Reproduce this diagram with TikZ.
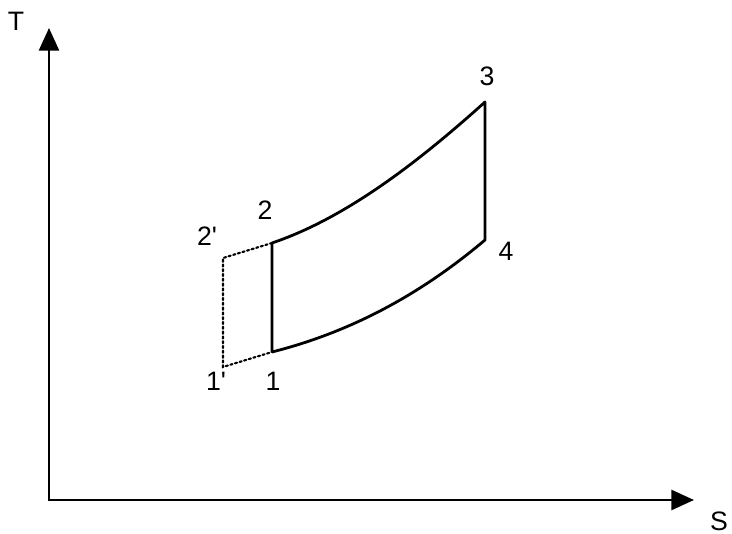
\documentclass[tikz,border=0pt]{standalone}
\usepackage{fontspec}
\setmainfont{Liberation Sans}
\newfontfamily\labfont{Liberation Sans}
\usetikzlibrary{arrows.meta}
\begin{document}
\begin{tikzpicture}[x=0.75pt,y=-0.75pt,
  axisline/.style={line width=2pt,{Triangle[length=17pt,width=15pt]}-{Triangle[length=17pt,width=15pt]}},
  cycleline/.style={line width=2.1pt,line join=round},
  auxline/.style={line width=1.6pt,dotted,line cap=round},
  ptlabel/.style={font=\labfont\fontsize{20}{22}\selectfont,inner sep=0pt},
  axlabel/.style={font=\labfont\fontsize{20}{22}\selectfont,inner sep=0pt}]
\useasboundingbox (0,0) rectangle (732,534);
\coordinate (O) at (49,500);
\coordinate (Ttop) at (49,28);
\coordinate (Send) at (694,500);
\coordinate (p1) at (272,352);
\coordinate (p2) at (272,243);
\coordinate (p3) at (485,102);
\coordinate (p4) at (485,240);
\coordinate (p1b) at (223,367);
\coordinate (p2b) at (223,258);
\draw[axisline] (Ttop) -- (O) -- (Send);
\draw[cycleline] (p1) -- (p2) .. controls (343,219) and (414,166) .. (p3) -- (p4) .. controls (414,300) and (343,334) .. (p1);
\draw[auxline] (p2) -- (p2b) -- (p1b) -- (p1);
\node[axlabel] (lT) at (16,21) {T};
\node[axlabel] (lS) at (719,521) {S};
\node[ptlabel] (l1) at (273,381) {1};
\node[ptlabel] (l1b) at (216,381) {1'};
\node[ptlabel] (l2) at (265,210) {2};
\node[ptlabel] (l2b) at (207,236) {2'};
\node[ptlabel] (l3) at (487,76) {3};
\node[ptlabel] (l4) at (506,251) {4};
\end{tikzpicture}
\end{document}
